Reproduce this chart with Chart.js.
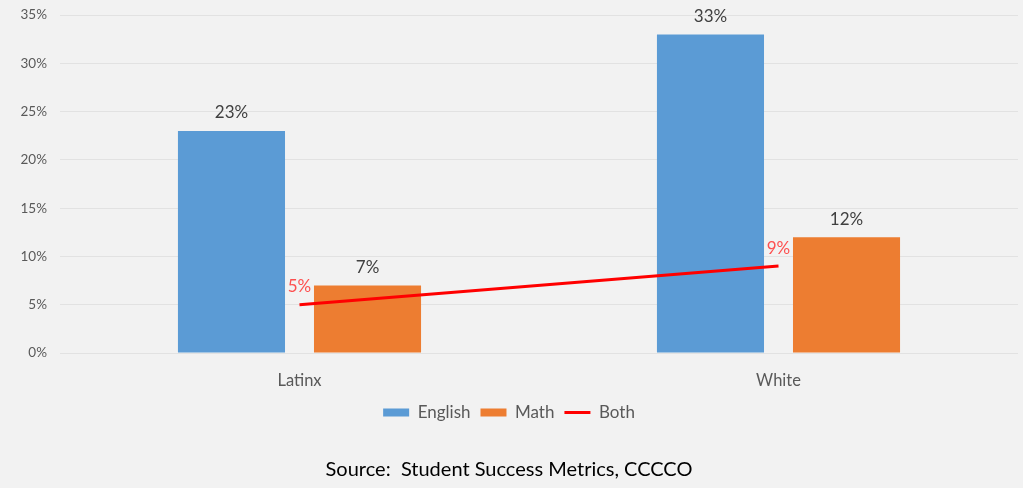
<!DOCTYPE html>
<html>
<head>
<meta charset="utf-8">
<script src="https://cdn.jsdelivr.net/npm/chart.js@4.4.0/dist/chart.umd.min.js"></script>
<style>
  html, body { margin: 0; padding: 0; background: #f2f2f2; }
  #wrap { width: 1023px; height: 488px; }
</style>
</head>
<body>
<div id="wrap"><canvas id="grafica"></canvas></div>
<script>
// datos
const categorias = ['Latinx', 'White'];
const english = [23, 33];
const math = [7, 12];
const both = [5, 9];
const fuente = 'Source:  Student Success Metrics, CCCCO';

const fontFam = 'Lato, "Open Sans", sans-serif';

// etiquetas encima de barras y linea
const etiquetas = {
  id: 'etiquetas',
  afterDatasetsDraw(chart) {
    const ctx = chart.ctx;
    ctx.save();
    ctx.textAlign = 'center';
    ctx.textBaseline = 'middle';
    chart.data.datasets.forEach((ds, i) => {
      const meta = chart.getDatasetMeta(i);
      meta.data.forEach((el, j) => {
        if (ds.type === 'line') {
          ctx.fillStyle = 'rgba(255, 50, 50, 0.85)';
          ctx.font = '17px ' + fontFam;
          ctx.fillText(ds.data[j] + '%', el.x, el.y - 18);
        } else {
          ctx.fillStyle = '#404040';
          ctx.font = '17px ' + fontFam;
          ctx.fillText(ds.data[j] + '%', el.x, el.y - 18);
        }
      });
    });
    ctx.restore();
  }
};

const ctx = document.getElementById('grafica').getContext('2d');

const data = {
  labels: categorias,
  datasets: [{
    label: 'English',
    data: english,
    backgroundColor: '#5b9bd5',
    borderWidth: 0,
    categoryPercentage: 0.568,
    barPercentage: 0.787,
    order: 2
  }, {
    label: 'Math',
    data: math,
    backgroundColor: '#ed7d31',
    borderWidth: 0,
    categoryPercentage: 0.568,
    barPercentage: 0.787,
    order: 2
  }, {
    label: 'Both',
    data: both,
    type: 'line',
    borderColor: '#ff0000',
    backgroundColor: '#ff0000',
    borderWidth: 3,
    pointRadius: 0,
    pointHoverRadius: 0,
    pointStyle: 'line',
    order: 1
  }]
};

const config = {
  type: 'bar',
  data: data,
  options: {
    responsive: true,
    maintainAspectRatio: false,
    animation: false,
    layout: { padding: { top: 6, right: 5, left: 0, bottom: 0 } },
    plugins: {
      legend: {
        position: 'bottom',
        labels: {
          usePointStyle: true,
          pointStyleWidth: 26,
          boxHeight: 8,
          padding: 10,
          color: '#595959',
          font: { family: fontFam, size: 17 },
          generateLabels(chart) {
            return chart.data.datasets.map((ds, i) => ({
              text: ds.label,
              fillStyle: ds.backgroundColor,
              strokeStyle: ds.type === 'line' ? ds.borderColor : ds.backgroundColor,
              lineWidth: ds.type === 'line' ? 3 : 0,
              pointStyle: ds.type === 'line' ? 'line' : 'rect',
              fontColor: '#595959',
              datasetIndex: i,
              hidden: false
            }));
          }
        }
      },
      title: {
        display: true,
        position: 'bottom',
        text: fuente,
        color: '#000000',
        font: { family: fontFam, size: 20, weight: 'normal' },
        padding: { top: 27, bottom: 6 }
      },
      tooltip: { enabled: false }
    },
    scales: {
      x: {
        grid: { display: false },
        border: { display: false },
        ticks: {
          color: '#595959',
          padding: 10,
          font: { family: fontFam, size: 16.5 }
        },
        afterFit(scale) { scale.height = 41; }
      },
      y: {
        min: 0,
        max: 35,
        ticks: {
          stepSize: 5,
          color: '#595959',
          padding: 7,
          font: { family: fontFam, size: 13.5 },
          callback: v => v + '%'
        },
        grid: { color: '#e2e2e2', lineWidth: 1, drawTicks: true, tickLength: 6, tickColor: 'rgba(0,0,0,0)' },
        border: { display: false },
        afterFit(scale) { scale.width = 60; }
      }
    }
  },
  plugins: [etiquetas]
};

const myChart = new Chart(ctx, config);
</script>
</body>
</html>
